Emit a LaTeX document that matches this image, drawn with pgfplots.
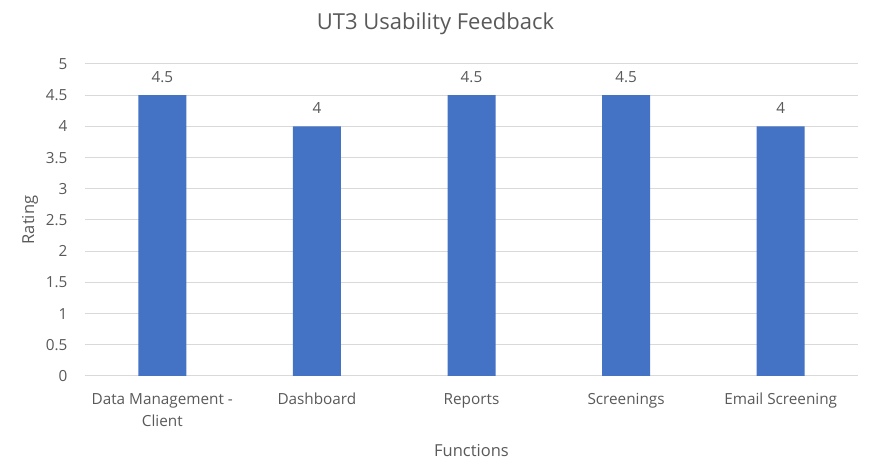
\documentclass[border=0pt]{standalone}
\usepackage{pgfplots}
\pgfplotsset{compat=1.18}
\usepackage{fontspec}
\setmainfont{Open Sans}
\definecolor{barblue}{HTML}{4472C4}
\definecolor{gridgray}{HTML}{D9D9D9}
\definecolor{textgray}{HTML}{595959}
\begin{document}
\begin{tikzpicture}
\path[use as bounding box] (-85pt,-97pt) rectangle (785pt,376pt);
\begin{axis}[
  scale only axis,
  width=773pt, height=312pt,
  xmin=-0.5, xmax=4.5,
  ymin=0, ymax=5,
  ytick={0,0.5,...,5},
  xtick=data,
  xticklabels={{\strut Data Management -\\Client},\strut Dashboard,\strut Reports,\strut Screenings,\strut Email Screening},
  xticklabel style={align=center, font=\fontsize{15.3}{21.5}\selectfont, text=textgray, yshift=-10pt},
  yticklabel style={font=\fontsize{15.3}{21}\selectfont, text=textgray, xshift=-14pt,
    /pgf/number format/fixed, /pgf/number format/assume math mode=true},
  major tick length=0pt,
  axis line style={draw=none},
  ymajorgrids, grid style={gridgray, line width=1pt},
  ybar, bar width=48pt,
  nodes near coords,
  nodes near coords style={font=\fontsize{15.3}{21}\selectfont, text=textgray, yshift=9pt, /pgf/number format/assume math mode=true},
  point meta=explicit symbolic,
  title={UT3 Usability Feedback},
  title style={font=\fontsize{22}{26}\selectfont, text=textgray, at={(0.5,1)}, anchor=center, yshift=34pt, xshift=-36pt},
  xlabel={Functions},
  ylabel={Rating},
  xlabel style={font=\fontsize{16.5}{20}\selectfont, text=textgray, at={(0.5,0)}, anchor=center, yshift=-75pt},
  ylabel style={font=\fontsize{16.5}{20}\selectfont, text=textgray, at={(0,0.5)}, anchor=center, yshift=55pt},
]
\addplot[fill=barblue, draw=none] coordinates {(0,4.5) [4.5] (1,4) [4] (2,4.5) [4.5] (3,4.5) [4.5] (4,4) [4]};
\end{axis}
\end{tikzpicture}
\end{document}
